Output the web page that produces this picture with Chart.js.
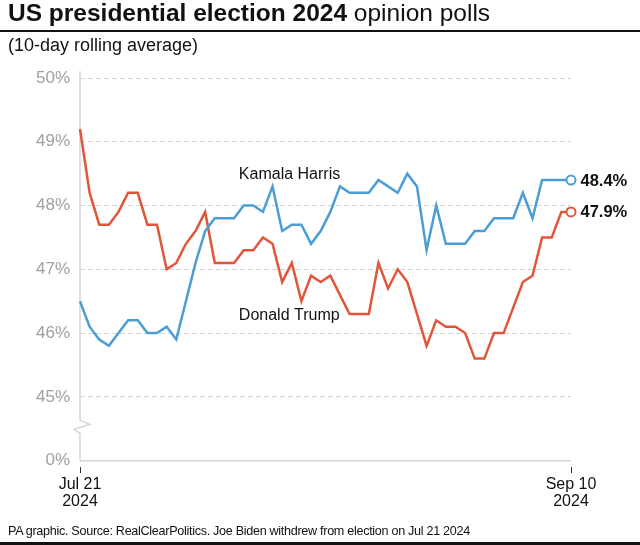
<!DOCTYPE html>
<html>
<head>
<meta charset="utf-8">
<script src="https://cdn.jsdelivr.net/npm/chart.js@4"></script>
<style>
  html, body { margin:0; padding:0; background:#fff; }
  body { width:640px; height:545px; position:relative; overflow:hidden; font-family:"Liberation Sans", Arial, sans-serif; color:#111; }
  #c { position:absolute; left:0; top:0; }
  .t { position:absolute; white-space:nowrap; line-height:1; }
  #title { left:8px; top:1px; font-size:24.5px; letter-spacing:0px; }
  #title b { font-weight:bold; }
  #rule1 { position:absolute; left:0; top:30px; width:640px; height:1.5px; background:#111; }
  #sub { left:8px; top:35.5px; font-size:18px; letter-spacing:0px; }
  #foot { left:8px; top:524.5px; font-size:12.6px; letter-spacing:-0.3px; }
  #rule2 { position:absolute; left:0; top:542px; width:640px; height:3px; background:#111; }
</style>
</head>
<body>
<canvas id="c" width="640" height="545"></canvas>
<div class="t" id="title"><b>US presidential election 2024</b> opinion polls</div>
<div id="rule1"></div>
<div class="t" id="sub">(10-day rolling average)</div>
<div class="t" id="foot">PA graphic. Source: RealClearPolitics. Joe Biden withdrew from election on Jul 21 2024</div>
<div id="rule2"></div>
<script>
// Categories: daily dates, Jul 21 – Sep 10 2024
const dates = [
  "Jul 21","Jul 22","Jul 23","Jul 24","Jul 25","Jul 26","Jul 27","Jul 28","Jul 29","Jul 30","Jul 31",
  "Aug 1","Aug 2","Aug 3","Aug 4","Aug 5","Aug 6","Aug 7","Aug 8","Aug 9","Aug 10",
  "Aug 11","Aug 12","Aug 13","Aug 14","Aug 15","Aug 16","Aug 17","Aug 18","Aug 19","Aug 20",
  "Aug 21","Aug 22","Aug 23","Aug 24","Aug 25","Aug 26","Aug 27","Aug 28","Aug 29","Aug 30","Aug 31",
  "Sep 1","Sep 2","Sep 3","Sep 4","Sep 5","Sep 6","Sep 7","Sep 8","Sep 9","Sep 10"
];
// Series values (%)
const harris = [
  46.5,46.1,45.9,45.8,46.0,46.2,46.2,46.0,46.0,46.1,45.9,
  46.5,47.1,47.6,47.8,47.8,47.8,48.0,48.0,47.9,48.3,
  47.6,47.7,47.7,47.4,47.6,47.9,48.3,48.2,48.2,48.2,
  48.4,48.3,48.2,48.5,48.3,47.3,48.0,47.4,47.4,47.4,47.6,
  47.6,47.8,47.8,47.8,48.2,47.8,48.4,48.4,48.4,48.4
];
const trump = [
  49.2,48.2,47.7,47.7,47.9,48.2,48.2,47.7,47.7,47.0,47.1,
  47.4,47.6,47.9,47.1,47.1,47.1,47.3,47.3,47.5,47.4,
  46.8,47.1,46.5,46.9,46.8,46.9,46.6,46.3,46.3,46.3,
  47.1,46.7,47.0,46.8,46.3,45.8,46.2,46.1,46.1,46.0,45.6,
  45.6,46.0,46.0,46.4,46.8,46.9,47.5,47.5,47.9,47.9
];
const seriesNames = ["Kamala Harris","Donald Trump"];
const seriesColors = ["#4b9dd5","#e1563a"];
// Tick labels
const yTickValues = [44,45,46,47,48,49,50];
const yTickLabels = ["0%","45%","46%","47%","48%","49%","50%"];
const xTickLabels = [["Jul 21","2024"],["Sep 10","2024"]];

const FONT = "'Liberation Sans', Arial, sans-serif";
const lastIdx = dates.length - 1;

const decor = {
  id: 'decor',
  beforeDatasetsDraw(chart) {
    const {ctx, chartArea, scales:{x, y}} = chart;
    const ax = chartArea.left;
    const top = y.getPixelForValue(50) - 7;
    const bot = y.getPixelForValue(44);
    const c = y.getPixelForValue(44.53);
    ctx.save();
    ctx.strokeStyle = '#d6d6d6';
    ctx.lineWidth = 1.5;
    ctx.lineJoin = 'miter';
    ctx.beginPath();
    ctx.moveTo(ax, top);
    ctx.lineTo(ax, c - 6.5);
    ctx.lineTo(ax + 10, c - 2.5);
    ctx.lineTo(ax - 6, c + 2.5);
    ctx.lineTo(ax, c + 6.5);
    ctx.lineTo(ax, bot);
    ctx.stroke();
    ctx.restore();
  },
  afterDatasetsDraw(chart) {
    const {ctx, scales:{x, y}} = chart;
    ctx.save();
    ctx.fillStyle = '#111';
    ctx.font = '16px ' + FONT;
    ctx.textAlign = 'left';
    ctx.textBaseline = 'alphabetic';
    ctx.fillText(seriesNames[0], x.getPixelForValue(16.5), y.getPixelForValue(48.42));
    ctx.fillText(seriesNames[1], x.getPixelForValue(16.5), y.getPixelForValue(46.2));
    ctx.font = 'bold 16.5px ' + FONT;
    ctx.textBaseline = 'middle';
    [harris, trump].forEach(s => {
      const v = s[lastIdx];
      ctx.fillText(v.toFixed(1) + '%', x.getPixelForValue(lastIdx) + 9.5, y.getPixelForValue(v) + 1);
    });
    ctx.restore();
  }
};

const endPoint = (ctx) => ctx.dataIndex === lastIdx ? 4.5 : 0;

new Chart(document.getElementById('c'), {
  type: 'line',
  data: {
    labels: dates,
    datasets: [
      { label: seriesNames[0], data: harris, borderColor: seriesColors[0], borderWidth: 2.5,
        pointRadius: endPoint, pointHoverRadius: 0, pointBackgroundColor: '#fff', pointBorderColor: seriesColors[0], pointBorderWidth: 2,
        tension: 0, clip: false, borderJoinStyle: 'miter' },
      { label: seriesNames[1], data: trump, borderColor: seriesColors[1], borderWidth: 2.5,
        pointRadius: endPoint, pointHoverRadius: 0, pointBackgroundColor: '#fff', pointBorderColor: seriesColors[1], pointBorderWidth: 2,
        tension: 0, clip: false, borderJoinStyle: 'miter' }
    ]
  },
  options: {
    responsive: false,
    animation: false,
    events: [],
    layout: { padding: { top: 78, right: 69, bottom: 0, left: 0 } },
    plugins: { legend: { display: false }, tooltip: { enabled: false }, title: { display: false } },
    scales: {
      x: {
        type: 'category',
        offset: false,
        afterBuildTicks: s => { const t = s.ticks; s.ticks = [t[0], t[t.length - 1]]; },
        afterFit: s => { s.height = 78; },
        grid: { drawOnChartArea: false, drawTicks: true, tickLength: 6, tickColor: '#333', tickWidth: 1 },
        border: { display: false },
        ticks: {
          autoSkip: false, maxRotation: 0, minRotation: 0, padding: 3,
          color: '#111', font: { family: FONT, size: 16, lineHeight: 1.08 },
          callback: (v) => v === 0 ? xTickLabels[0] : xTickLabels[1]
        }
      },
      y: {
        min: 43.9, max: 50,
        afterBuildTicks: s => { s.ticks = yTickValues.map(v => ({ value: v })); },
        afterFit: s => { s.width = 80; },
        grid: {
          drawTicks: false,
          color: c => c.tick && c.tick.value === 44 ? '#d6d6d6' : '#d4d4d4',
          lineWidth: c => c.tick && c.tick.value === 44 ? 1.5 : 1
        },
        border: { display: false, dash: c => c.tick && c.tick.value === 44 ? [] : [5, 3] },
        ticks: {
          padding: 10, color: '#a0a0a0', font: { family: FONT, size: 17 },
          callback: (v) => yTickLabels[yTickValues.indexOf(v)]
        }
      }
    }
  },
  plugins: [decor]
});
</script>
</body>
</html>
